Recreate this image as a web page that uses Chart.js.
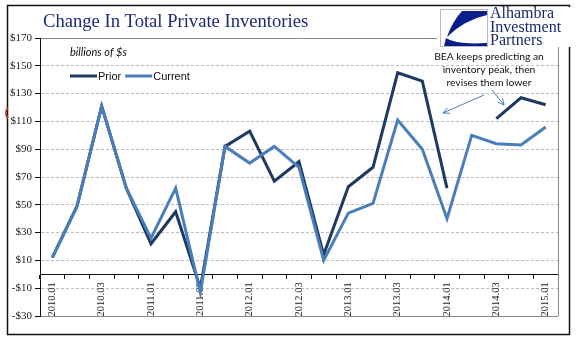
<!DOCTYPE html>
<html>
<head>
<meta charset="utf-8">
<title>Change In Total Private Inventories</title>
<script src="https://cdn.jsdelivr.net/npm/chart.js@4"></script>
<style>
  html, body { margin: 0; padding: 0; background: #fff; }
  #wrap { width: 577px; height: 341px; }
</style>
</head>
<body>
<div id="wrap"><canvas id="invChart" width="577" height="341"></canvas></div>
<script>
// Quarterly change in private inventories, billions of dollars
const quarters = ['2010.01', '2010.02', '2010.03', '2010.04',
                  '2011.01', '2011.02', '2011.03', '2011.04',
                  '2012.01', '2012.02', '2012.03', '2012.04',
                  '2013.01', '2013.02', '2013.03', '2013.04',
                  '2014.01', '2014.02', '2014.03', '2014.04',
                  '2015.01'];
const prior   = [12, 49, 121, 62, 22, 45, -10, 92, 103, 67, 81, 14, 63, 77, 145, 139, 62, null, 112, 127, 122];
const current = [12, 49, 121, 62, 26, 62, -13, 92, 80, 92, 77, 10, 44, 51, 111, 90, 40, 100, 94, 93, 106];
const yMin = -30, yMax = 170, yStep = 20;
const note = ['BEA keeps predicting an', 'inventory peak, then', 'revises them lower'];

const NAVY = '#1F3A60';
const BLUE = '#4A7EBB';

function money(v) {
  return v < 0 ? '-$' + Math.abs(v) : '$' + v;
}

function arrow(ctx, x1, y1, x2, y2) {
  const a = Math.atan2(y2 - y1, x2 - x1), h = 7;
  ctx.beginPath();
  ctx.moveTo(x1, y1);
  ctx.lineTo(x2, y2);
  ctx.moveTo(x2 - h * Math.cos(a - 0.45), y2 - h * Math.sin(a - 0.45));
  ctx.lineTo(x2, y2);
  ctx.lineTo(x2 - h * Math.cos(a + 0.45), y2 - h * Math.sin(a + 0.45));
  ctx.stroke();
}

const decor = {
  id: 'decor',
  beforeDraw(chart) {
    const ctx = chart.ctx;
    ctx.save();
    ctx.fillStyle = '#fff';
    ctx.fillRect(0, 0, chart.width, chart.height);
    ctx.restore();
  },
  afterDraw(chart) {
    const ctx = chart.ctx;
    const area = chart.chartArea;
    ctx.save();

    // right edge of the plot area
    ctx.strokeStyle = '#888';
    ctx.lineWidth = 1;
    ctx.beginPath();
    ctx.moveTo(Math.round(area.right) + 0.5, area.top);
    ctx.lineTo(Math.round(area.right) + 0.5, area.bottom);
    ctx.stroke();

    // outer frame
    ctx.strokeStyle = '#111';
    ctx.lineWidth = 1.5;
    ctx.strokeRect(7.5, 5.5, 562, 329);

    // small red mark on the left edge
    ctx.strokeStyle = '#C0392B';
    ctx.lineWidth = 2;
    ctx.beginPath();
    ctx.arc(14, 113, 8, Math.PI * 0.78, Math.PI * 1.22);
    ctx.stroke();

    // title
    ctx.fillStyle = '#1F2A78';
    ctx.font = '18.6px "Liberation Serif", serif';
    ctx.textAlign = 'left';
    ctx.textBaseline = 'alphabetic';
    ctx.fillText('Change In Total Private Inventories', 43, 27);

    // logo block
    ctx.fillStyle = '#fff';
    ctx.fillRect(437, 7, 140, 40);
    ctx.strokeStyle = '#bbb';
    ctx.lineWidth = 1;
    ctx.strokeRect(440.5, 9.5, 47, 37);
    ctx.fillStyle = '#0B1E8C';
    ctx.beginPath();
    ctx.moveTo(462, 11);
    ctx.lineTo(487, 11);
    ctx.lineTo(487, 15);
    ctx.quadraticCurveTo(464, 20, 447, 37);
    ctx.quadraticCurveTo(452, 22, 462, 11);
    ctx.fill();
    ctx.beginPath();
    ctx.moveTo(446, 38);
    ctx.quadraticCurveTo(456, 45, 487, 43);
    ctx.lineTo(487, 46);
    ctx.lineTo(444, 46);
    ctx.closePath();
    ctx.fill();
    ctx.fillStyle = '#1B2A6B';
    ctx.font = '16px "Liberation Serif", serif';
    ctx.fillText('Alhambra', 490, 18);
    ctx.fillText('Investment', 490, 32);
    ctx.fillText('Partners', 490, 45);

    // units note
    ctx.fillStyle = '#111';
    ctx.font = 'italic 11px Lato, sans-serif';
    ctx.fillText('billions of $s', 70, 56);

    // legend
    const sets = chart.data.datasets;
    let lx = 70;
    ctx.font = '11px "Liberation Sans", sans-serif';
    ctx.textBaseline = 'middle';
    sets.forEach(ds => {
      ctx.strokeStyle = ds.borderColor;
      ctx.lineWidth = 3;
      ctx.beginPath();
      ctx.moveTo(lx, 76);
      ctx.lineTo(lx + 27, 76);
      ctx.stroke();
      ctx.fillStyle = '#111';
      ctx.fillText(ds.label, lx + 28, 76.5);
      lx += 28 + ctx.measureText(ds.label).width + 4;
    });

    // annotation
    ctx.fillStyle = '#111';
    ctx.font = '10.3px Lato, sans-serif';
    ctx.textAlign = 'center';
    ctx.textBaseline = 'alphabetic';
    note.forEach((t, i) => ctx.fillText(t, 489, 60 + i * 12.8));
    ctx.strokeStyle = BLUE;
    ctx.lineWidth = 1;
    arrow(ctx, 484, 95, 443, 113);
    arrow(ctx, 492, 90, 504, 105);

    ctx.restore();
  }
};

new Chart(document.getElementById('invChart'), {
  type: 'line',
  data: {
    labels: quarters,
    datasets: [{
      label: 'Prior',
      data: prior,
      borderColor: NAVY,
      borderWidth: 3,
      pointRadius: 0,
      tension: 0,
      spanGaps: false,
      order: 2
    }, {
      label: 'Current',
      data: current,
      borderColor: BLUE,
      borderWidth: 3,
      pointRadius: 0,
      tension: 0,
      order: 1
    }]
  },
  options: {
    responsive: false,
    animation: false,
    devicePixelRatio: 1,
    events: [],
    layout: { padding: { left: 0, right: 19, top: 38, bottom: 25 } },
    plugins: { legend: { display: false }, tooltip: { enabled: false } },
    scales: {
      x: {
        position: { y: 0 },
        offset: true,
        grid: { offset: true, drawOnChartArea: false, drawTicks: true, tickLength: 4, color: '#111' },
        border: { color: '#111', width: 1 },
        ticks: {
          autoSkip: false,
          maxRotation: 90,
          minRotation: 90,
          padding: 4,
          color: '#222',
          font: { family: '"Liberation Serif", serif', size: 10.5 },
          callback: function (v, i) { return i % 2 === 0 ? this.getLabelForValue(v) : ''; }
        }
      },
      y: {
        min: yMin,
        max: yMax,
        afterFit: s => { s.width = 40; },
        grid: {
          color: c => (c.tick && (c.tick.value === yMax || c.tick.value === yMin)) ? '#888' : '#bbb',
          tickColor: '#111',
          tickLength: 5,
          tickBorderDash: []
        },
        border: {
          color: '#111',
          width: 1,
          dash: c => (c.tick && (c.tick.value === yMax || c.tick.value === yMin)) ? [] : [3, 2]
        },
        ticks: {
          stepSize: yStep,
          padding: 3,
          color: '#222',
          font: { family: '"Liberation Serif", serif', size: 11 },
          callback: v => money(v)
        }
      }
    }
  },
  plugins: [decor]
});
</script>
</body>
</html>
